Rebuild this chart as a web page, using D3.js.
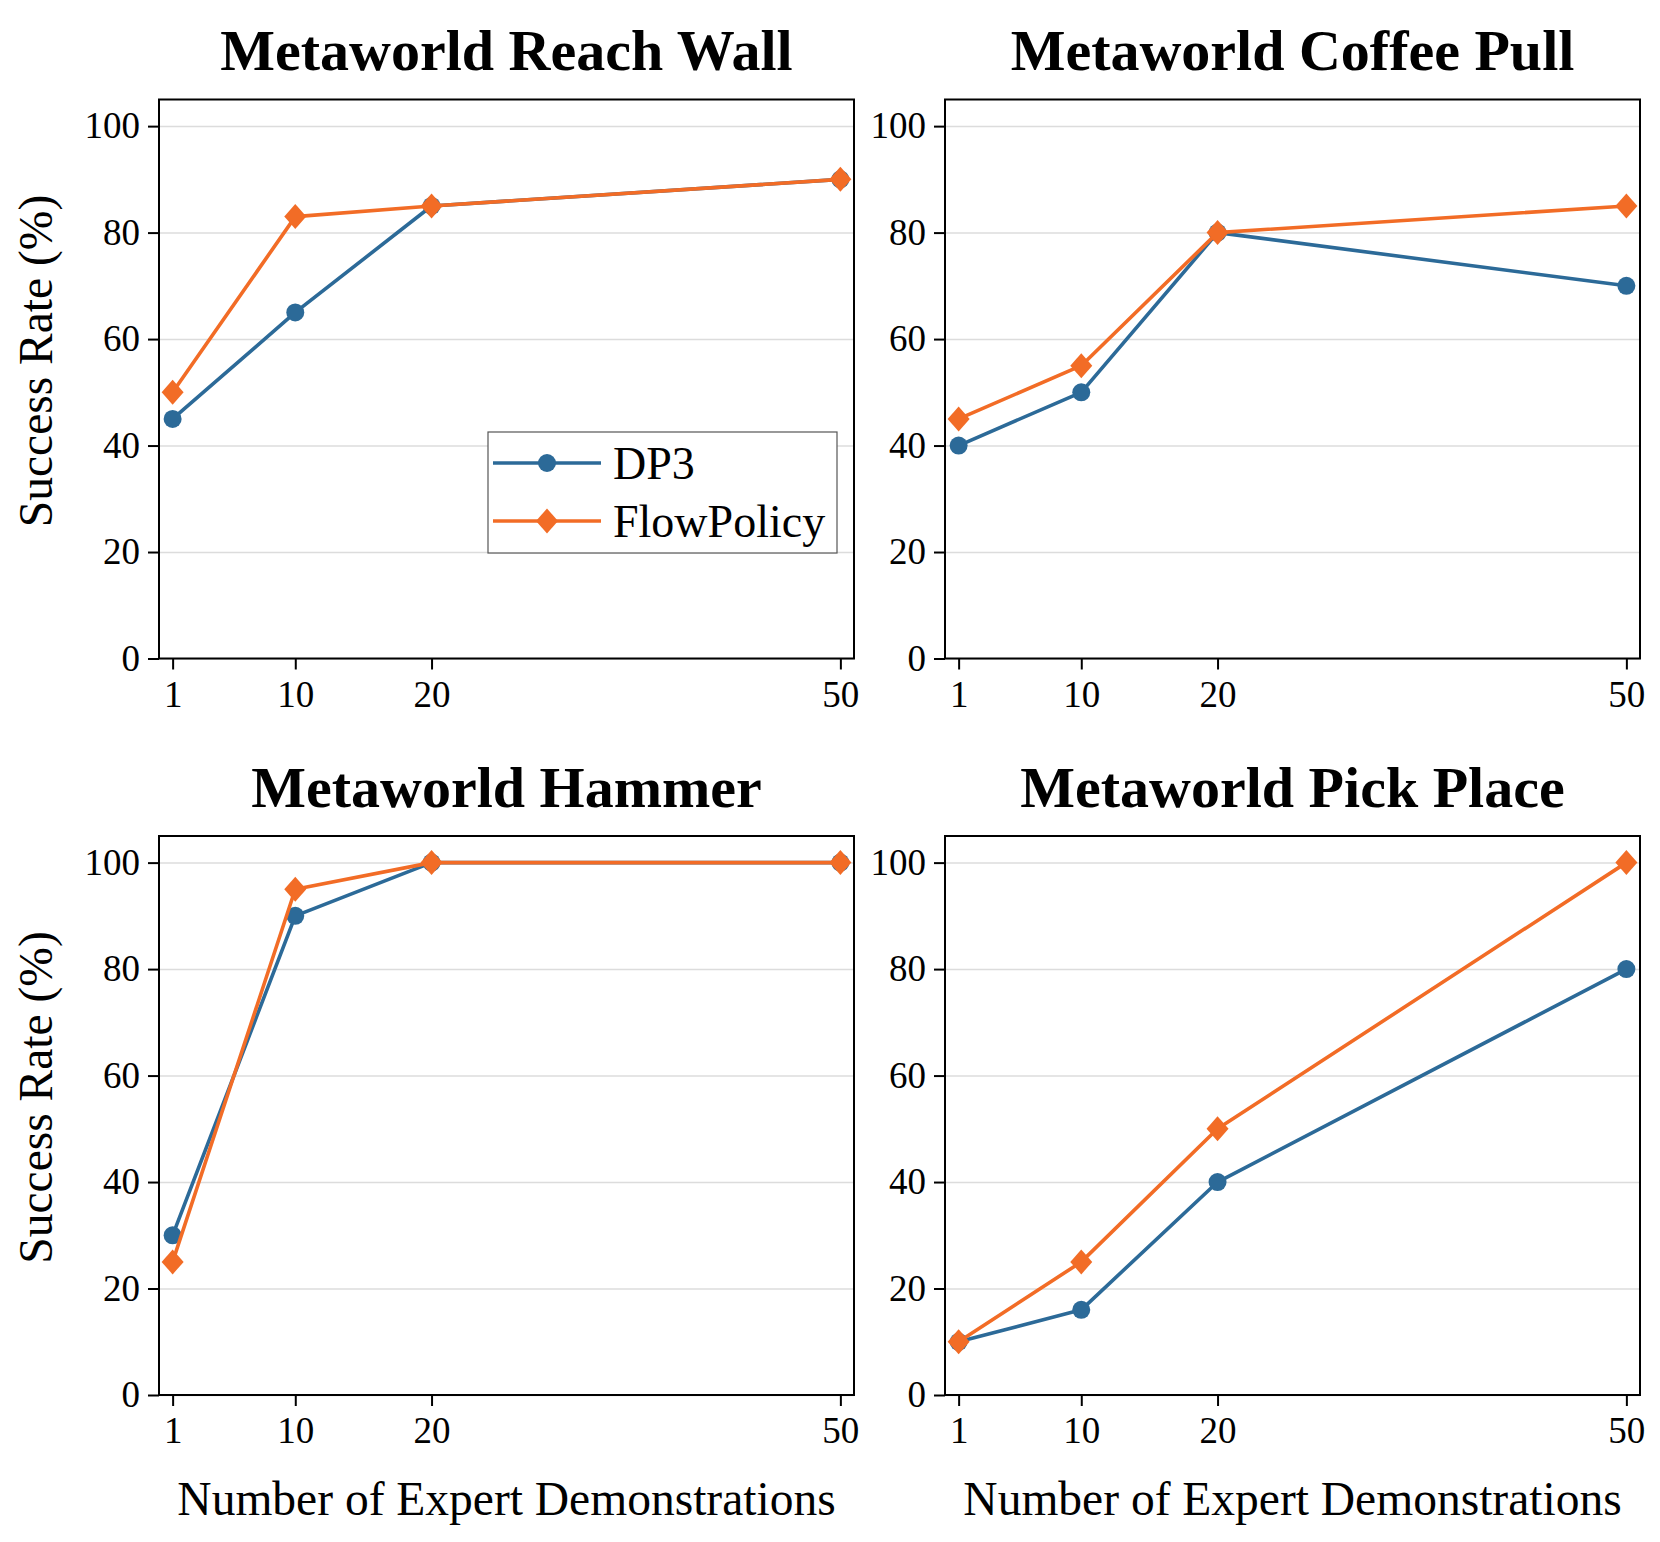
<!DOCTYPE html>
<html lang="en">
<head>
    <meta charset="UTF-8">
    <title>Metaworld success rates</title>
    <script src="https://d3js.org/d3.v7.min.js"></script>
    <style>
        body { margin: 0; background: #fff; }
        svg { display: block; font-family: "Liberation Serif", "Times New Roman", serif; }
        .grid line { stroke: #dcdcdc; stroke-width: 1.5; }
        .grid path { display: none; }
        .axis path, .axis line { stroke: #000; stroke-width: 2; }
        .axis text { font-family: "Liberation Serif", "Times New Roman", serif; font-size: 37px; fill: #000; }
        .frame { fill: none; stroke: #000; stroke-width: 2; }
    </style>
</head>
<body>
<svg width="1660" height="1542"></svg>
<script>
    // chart data
    const demos = [1, 10, 20, 50];
    const yTicks = [0, 20, 40, 60, 80, 100];
    const titles = ["Metaworld Reach Wall", "Metaworld Coffee Pull", "Metaworld Hammer", "Metaworld Pick Place"];
    const seriesNames = ["DP3", "FlowPolicy"];
    const dp3 = [
        [45, 65, 85, 90],
        [40, 50, 80, 70],
        [30, 90, 100, 100],
        [10, 16, 40, 80]
    ];
    const flowPolicy = [
        [50, 83, 85, 90],
        [45, 55, 80, 85],
        [25, 95, 100, 100],
        [10, 25, 50, 100]
    ];

    const colors = ["#2c6a98", "#f26c26"];
    const svg = d3.select("svg");

    const colLeft = [159, 945];
    const rowTop = [99.5, 836];
    const pw = 695, ph = 559;

    const x = d3.scaleLinear().domain([0, 51]).range([0, pw]);
    const y = d3.scaleLinear().domain([0, 105]).range([ph, 0]);

    const line = d3.line()
        .x((d, i) => x(demos[i]))
        .y(d => y(d));

    function drawMarker(g, kind, cx, cy, color) {
        if (kind === 0) {
            g.append("circle").attr("cx", cx).attr("cy", cy).attr("r", 9).attr("fill", color);
        } else {
            const s = 12.5;
            g.append("path")
                .attr("d", `M${cx},${cy - s}L${cx + s * 0.88},${cy}L${cx},${cy + s}L${cx - s * 0.88},${cy}Z`)
                .attr("fill", color);
        }
    }

    titles.forEach(function(title, p) {
        const col = p % 2, row = Math.floor(p / 2);
        const g = svg.append("g").attr("transform", `translate(${colLeft[col]},${rowTop[row]})`);

        // horizontal grid
        g.append("g").attr("class", "grid")
            .call(d3.axisLeft(y).tickValues(yTicks).tickSize(-pw).tickFormat(""));

        // lines + markers
        [dp3[p], flowPolicy[p]].forEach(function(vals, s) {
            g.append("path")
                .datum(vals)
                .attr("fill", "none")
                .attr("stroke", colors[s])
                .attr("stroke-width", 3.6)
                .attr("stroke-linejoin", "round")
                .attr("d", line);
            vals.forEach((v, i) => drawMarker(g, s, x(demos[i]), y(v), colors[s]));
        });

        g.append("rect").attr("class", "frame").attr("width", pw).attr("height", ph);

        g.append("g").attr("class", "axis")
            .call(d3.axisLeft(y).tickValues(yTicks).tickSize(11).tickPadding(8))
            .call(a => a.select(".domain").remove());

        g.append("g").attr("class", "axis")
            .attr("transform", `translate(0,${ph})`)
            .call(d3.axisBottom(x).tickValues(demos).tickSize(11).tickPadding(11))
            .call(a => a.select(".domain").remove());

        g.append("text")
            .attr("x", pw / 2)
            .attr("y", -29.5)
            .attr("text-anchor", "middle")
            .attr("font-size", 58)
            .attr("font-weight", "bold")
            .text(title);

        if (col === 0) {
            g.append("text")
                .attr("transform", `translate(${52 - colLeft[col]},${ph / 2 - 18}) rotate(-90)`)
                .attr("text-anchor", "middle")
                .attr("font-size", 47.5)
                .text("Success Rate (%)");
        }
        if (row === 1) {
            g.append("text")
                .attr("x", pw / 2)
                .attr("y", 1515 - rowTop[row])
                .attr("text-anchor", "middle")
                .attr("font-size", 47.5)
                .text("Number of Expert Demonstrations");
        }

        if (p === 0) {
            const lg = g.append("g").attr("transform", "translate(329,332.5)");
            lg.append("rect")
                .attr("width", 349).attr("height", 121)
                .attr("fill", "#fff").attr("stroke", "#555").attr("stroke-width", 1.2);
            seriesNames.forEach(function(name, s) {
                const ly = 31 + s * 58;
                lg.append("line")
                    .attr("x1", 5).attr("x2", 113).attr("y1", ly).attr("y2", ly)
                    .attr("stroke", colors[s]).attr("stroke-width", 3.6);
                drawMarker(lg, s, 59, ly, colors[s]);
                lg.append("text")
                    .attr("x", 125).attr("y", ly)
                    .attr("dy", "0.34em")
                    .attr("font-size", 46)
                    .text(name);
            });
        }
    });
</script>
</body>
</html>
